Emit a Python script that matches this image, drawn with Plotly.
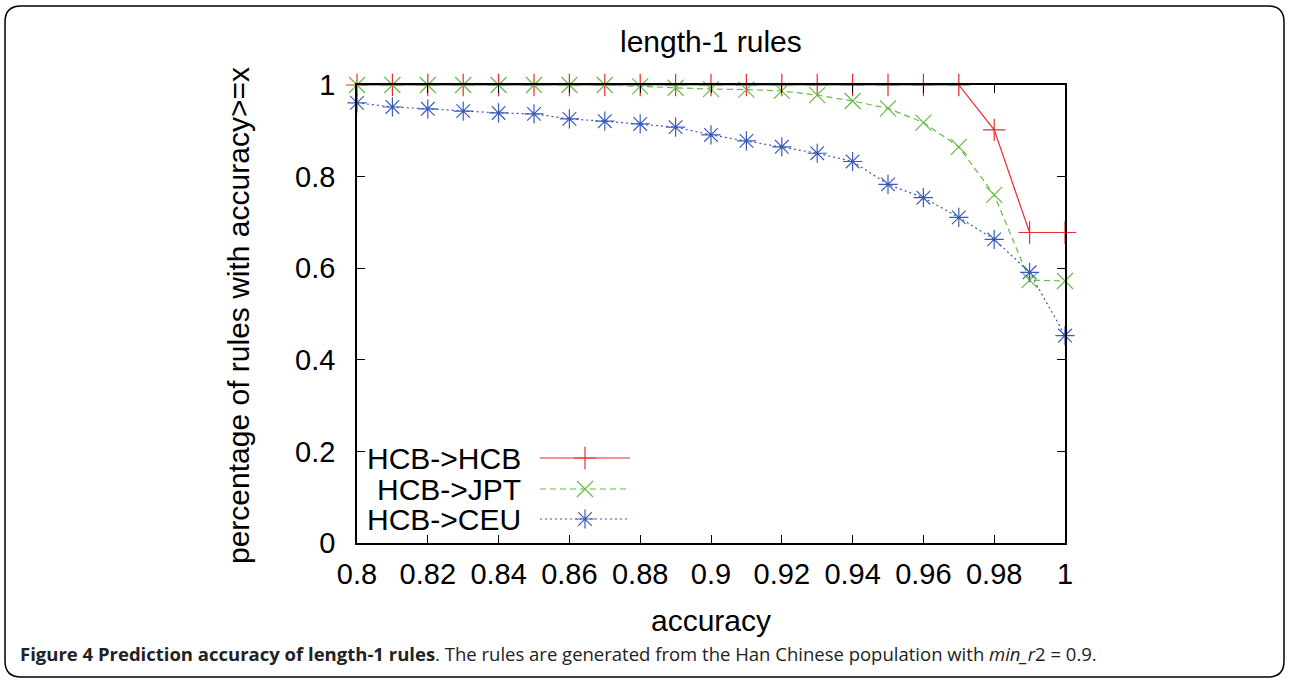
import plotly.graph_objects as go

accuracy = [0.80, 0.81, 0.82, 0.83, 0.84, 0.85, 0.86, 0.87, 0.88, 0.89, 0.90,
            0.91, 0.92, 0.93, 0.94, 0.95, 0.96, 0.97, 0.98, 0.99, 1.00]
hcb_hcb = [1.0, 1.0, 1.0, 1.0, 1.0, 1.0, 1.0, 1.0, 1.0, 1.0, 1.0,
           1.0, 1.0, 1.0, 1.0, 1.0, 1.0, 1.0, 0.902, 0.678, 0.678]
hcb_jpt = [1.0, 1.0, 1.0, 1.0, 1.0, 1.0, 1.0, 1.0, 0.997, 0.994, 0.991,
           0.990, 0.987, 0.978, 0.965, 0.949, 0.918, 0.865, 0.760, 0.574, 0.572]
hcb_ceu = [0.961, 0.952, 0.948, 0.943, 0.939, 0.937, 0.926, 0.921, 0.915, 0.908, 0.891,
           0.878, 0.865, 0.851, 0.833, 0.783, 0.754, 0.711, 0.663, 0.591, 0.453]
series_names = ["HCB->HCB", "HCB->JPT", "HCB->CEU"]
x_ticks = [0.80, 0.82, 0.84, 0.86, 0.88, 0.90, 0.92, 0.94, 0.96, 0.98, 1.00]
x_labels = ["0.8", "0.82", "0.84", "0.86", "0.88", "0.9", "0.92", "0.94", "0.96", "0.98", "1"]
y_ticks = [0, 0.2, 0.4, 0.6, 0.8, 1.0]
y_labels = ["0", "0.2", "0.4", "0.6", "0.8", "1"]

W, H = 1289, 681
L, R, T, B = 357, 1065, 85, 543

def px(x):
    return (x - L) / (R - L)

def py(y):
    return (B - y) / (B - T)

colors = ["#ee2a2a", "#66bb44", "#3a5ab8"]
dashes = ["solid", "6px,4px", "2px,3px"]
symbols = ["cross-thin-open", "x-thin-open", "asterisk-open"]
data = [hcb_hcb, hcb_jpt, hcb_ceu]

FONT = "Liberation Sans, Arial, sans-serif"
fig = go.Figure()
for name, ys, c, d, s in zip(series_names, data, colors, dashes, symbols):
    fig.add_trace(go.Scatter(
        x=accuracy, y=ys, mode="lines+markers", name=name,
        line=dict(color=c, dash=d, width=1.2),
        marker=dict(symbol=s, size=16, color=c, line=dict(color=c, width=1.2)),
        cliponaxis=False, showlegend=False))

# legend samples (on an overlay axis in pixel-like units)
leg_rows = [458, 489, 519]
for name, c, d, s, yrow in zip(series_names, colors, dashes, symbols, leg_rows):
    fig.add_trace(go.Scatter(
        x=[540, 585, 630], y=[yrow, yrow, yrow], mode="lines",
        line=dict(color=c, dash=d, width=1.2), xaxis="x2", yaxis="y2",
        showlegend=False, hoverinfo="skip"))
    fig.add_trace(go.Scatter(
        x=[585], y=[yrow], mode="markers",
        marker=dict(symbol=s, size=16, color=c, line=dict(color=c, width=1.2)),
        xaxis="x2", yaxis="y2", showlegend=False, hoverinfo="skip", cliponaxis=False))
    fig.add_annotation(x=523, y=yrow, xref="x2", yref="y2", text=name,
                       showarrow=False, xanchor="right", yanchor="middle",
                       font=dict(family=FONT, size=30, color="black"))

# outer rounded border
rad = 16
x0, x1, y0, y1 = 5, 1284, 6, 677
path = (f"M {px(x0+rad)},{py(y0)} L {px(x1-rad)},{py(y0)} "
        f"Q {px(x1)},{py(y0)} {px(x1)},{py(y0+rad)} "
        f"L {px(x1)},{py(y1-rad)} Q {px(x1)},{py(y1)} {px(x1-rad)},{py(y1)} "
        f"L {px(x0+rad)},{py(y1)} Q {px(x0)},{py(y1)} {px(x0)},{py(y1-rad)} "
        f"L {px(x0)},{py(y0+rad)} Q {px(x0)},{py(y0)} {px(x0+rad)},{py(y0)} Z")
fig.add_shape(type="path", path=path, xref="paper", yref="paper",
              line=dict(color="black", width=1.5))

fig.add_annotation(x=0.5, y=py(42), xref="paper", yref="paper", text="length-1 rules",
                   showarrow=False, yanchor="middle",
                   font=dict(family=FONT, size=30, color="black"))
fig.add_annotation(x=0.5, y=py(620), xref="paper", yref="paper", text="accuracy",
                   showarrow=False, yanchor="middle",
                   font=dict(family=FONT, size=30, color="black"))
fig.add_annotation(x=px(238), y=py(316), xref="paper", yref="paper",
                   text="percentage of rules with accuracy>=x", textangle=-90,
                   showarrow=False, xanchor="center", yanchor="middle",
                   font=dict(family=FONT, size=30, color="black"))
fig.add_annotation(x=px(18), y=py(653), xref="paper", yref="paper",
                   text="<b>Figure 4 Prediction accuracy of length-1 rules</b>. The rules are generated from the Han Chinese population with <i>min_r</i>2 = 0.9.",
                   showarrow=False, xanchor="left", yanchor="middle",
                   font=dict(family="Open Sans, sans-serif", size=18.5, color="#222222"))

fig.update_layout(
    width=W, height=H,
    margin=dict(l=L, r=W - R, t=T, b=H - B),
    paper_bgcolor="white", plot_bgcolor="white",
    xaxis=dict(range=[0.8, 1.0], tickvals=x_ticks, ticktext=x_labels,
               ticks="inside", ticklen=8, tickwidth=1.3, tickcolor="black",
               showline=True, linecolor="black", linewidth=1.5, mirror="ticks",
               showgrid=False, zeroline=False, ticklabelstandoff=4,
               tickfont=dict(family=FONT, size=29, color="black")),
    yaxis=dict(range=[0, 1.0], tickvals=y_ticks, ticktext=y_labels,
               ticks="inside", ticklen=8, tickwidth=1.3, tickcolor="black",
               showline=True, linecolor="black", linewidth=1.5, mirror="ticks",
               showgrid=False, zeroline=False, ticklabelstandoff=14,
               tickfont=dict(family=FONT, size=29, color="black")),
    xaxis2=dict(range=[L, R], overlaying="x", visible=False, fixedrange=True),
    yaxis2=dict(range=[B, T], overlaying="y", visible=False, fixedrange=True),
    showlegend=False,
)

fig.write_html("out.html", config={"displayModeBar": False},
               post_script="document.body.style.margin='0';")
